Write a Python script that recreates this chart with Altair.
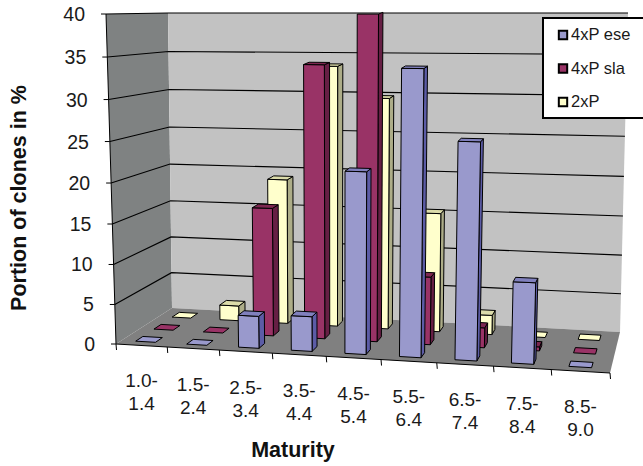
import altair as alt
import pandas as pd

# Portion of clones per maturity class, one list per ploidy group
categories = ["1.0-|1.4", "1.5-|2.4", "2.5-|3.4", "3.5-|4.4", "4.5-|5.4",
              "5.5-|6.4", "6.5-|7.4", "7.5-|8.4", "8.5-|9.0"]
ese = [0, 0, 4, 4.3, 22, 34, 25.8, 9.7, 0]
sla = [0, 0, 16.3, 34, 40, 8.5, 2.5, 0.5, 0]
two = [0, 2, 19, 33.5, 29.6, 15.3, 2.5, 0, 0]
y_ticks = [0, 5, 10, 15, 20, 25, 30, 35, 40]
y_max = 40

series = [
    ("4xP ese", ese, 1 / 6, "#9999cc", "#5c5ca6", "#8080bd"),
    ("4xP sla", sla, 1 / 2, "#993366", "#661f44", "#7d2750"),
    ("2xP", two, 5 / 6, "#ffffcc", "#adad88", "#dcdcaa"),
]

# Corners of the 3D box on the page: (front/back, left/right) at floor and ceiling
FLOOR = {"fl": (116, 344), "fr": (610, 373), "bl": (172, 308), "br": (620, 332)}
CEIL = {"fl": (106, 14), "fr": (622, 16), "bl": (168, 13), "br": (628, 13)}


def warp(t, w):
    return t / (t + w * (1 - t)) if t > 0 else 0.0


def mix(a, b, t):
    return a + (b - a) * t


def project(u, d, h):
    """Perspective mapping: u across classes, d into depth, h in percent."""
    uu, hh = warp(u, 1.08), warp(h / y_max, 1.05)
    out = []
    for k in (0, 1):
        low = mix(mix(FLOOR["fl"][k], FLOOR["fr"][k], uu), mix(FLOOR["bl"][k], FLOOR["br"][k], uu), d)
        high = mix(mix(CEIL["fl"][k], CEIL["fr"][k], uu), mix(CEIL["bl"][k], CEIL["br"][k], uu), d)
        out.append(mix(low, high, hh))
    return out


def rear_top(u, d, h):
    """Rear edge of a bar's top face, lifted a little so tall caps stay visible."""
    px, py = project(u, d, h)
    return [px, py - 1.6 * h / y_max]


def face_rows(pid, corners, fill):
    pts = corners + corners[:1]
    return [{"pid": pid, "v": i, "x": p[0], "y": p[1], "fill": fill} for i, p in enumerate(pts)]


def line_rows(pid, corners):
    return [{"pid": pid, "v": i, "x": p[0], "y": p[1]} for i, p in enumerate(corners)]


SX = alt.Scale(domain=[0, 643], nice=False, zero=False)
SY = alt.Scale(domain=[466, 0], nice=False, zero=False)
X = alt.X("x:Q", axis=None, scale=SX)
Y = alt.Y("y:Q", axis=None, scale=SY)


def polygons(rows, **mark):
    return alt.Chart(pd.DataFrame(rows)).mark_line(**mark).encode(
        x=X, y=Y, order="v:Q", detail="pid:N", fill=alt.Fill("fill:N", scale=None)
    )


def lines(rows, **mark):
    return alt.Chart(pd.DataFrame(rows)).mark_line(**mark).encode(
        x=X, y=Y, order="v:Q", detail="pid:N"
    )


# Walls and floor
walls = []
walls += face_rows("w0", [project(0, 0, 0), project(0, 1, 0), project(0, 1, y_max), project(0, 0, y_max)], "#7f8282")
walls += face_rows("w1", [project(0, 1, 0), project(1, 1, 0), project(1, 1, y_max), project(0, 1, y_max)], "#c2c2c2")
walls += face_rows("w2", [project(0, 0, 0), project(1, 0, 0), project(1, 1, 0), project(0, 1, 0)], "#808080")

# Gridlines run along the side wall and the back wall
grid = []
for t in y_ticks[1:]:
    grid += line_rows(f"g{t}", [project(0, 0, t), project(0, 1, t), project(1, 1, t)])

# Axis lines and tick marks
edges = line_rows("ax-y", [project(0, 0, 0), project(0, 0, y_max)])
edges += line_rows("ax-x", [project(0, 0, 0), project(1, 0, 0)])
for t in y_ticks:
    px, py = project(0, 0, t)
    edges += line_rows(f"ty{t}", [[px - 5, py], [px, py]])
for i in range(len(categories) + 1):
    px, py = project(i / len(categories), 0, 0)
    edges += line_rows(f"tx{i}", [[px, py], [px + 0.5, py + 6]])

# Bars, painted from the back row forward and left to right
half_u, half_d = 0.195 / len(categories), 0.065
bars = []
for rank, (name, values, depth, front, side, top) in enumerate(reversed(series)):
    d0, d1 = depth - half_d, depth + half_d
    for i, value in enumerate(values):
        u = (i + 0.5) / len(categories) - 0.003
        u0, u1 = u - half_u, u + half_u
        key = f"{rank}-{i}"
        if value > 0:
            bars += face_rows(f"{key}-a", [project(u1, d0, 0), project(u1, d1, 0), rear_top(u1, d1, value), project(u1, d0, value)], side)
            bars += face_rows(f"{key}-b", [project(u0, d0, 0), project(u1, d0, 0), project(u1, d0, value), project(u0, d0, value)], front)
        if value < y_max:
            cap = top if value > 0 else front
            bars += face_rows(f"{key}-c", [project(u0, d0, value), project(u1, d0, value), rear_top(u1, d1, value), rear_top(u0, d1, value)], cap)

# Text for the axes
y_labels = pd.DataFrame([
    {"x": project(0, 0, t)[0] - 21, "y": project(0, 0, t)[1] + 1, "text": str(t)} for t in y_ticks
])
x_rows = []
for i, label in enumerate(categories):
    px, py = project((i + 0.5) / len(categories), 0, 0)
    for j, part in enumerate(label.split("|")):
        x_rows.append({"x": px, "y": py + 36 + 23 * j, "text": part})
x_labels = pd.DataFrame(x_rows)

FONT = "Liberation Sans"
tick_y = alt.Chart(y_labels).mark_text(font=FONT, fontSize=19.5, align="right", baseline="middle", color="#1a1a1a").encode(x=X, y=Y, text="text:N")
tick_x = alt.Chart(x_labels).mark_text(font=FONT, fontSize=19, align="center", baseline="middle", color="#1a1a1a").encode(x=X, y=Y, text="text:N")
title_x = alt.Chart(pd.DataFrame({"x": [293], "y": [451], "text": ["Maturity"]})).mark_text(
    font=FONT, fontSize=21.5, fontWeight="bold", align="center", baseline="middle", color="#111111"
).encode(x=X, y=Y, text="text:N")
title_y = alt.Chart(pd.DataFrame({"x": [20], "y": [198], "text": ["Portion of clones in %"]})).mark_text(
    font=FONT, fontSize=21.5, fontWeight="bold", align="center", baseline="middle", angle=270, color="#111111"
).encode(x=X, y=Y, text="text:N")

# Legend box with its swatches
legend_box = alt.Chart(pd.DataFrame({"a": [0]})).mark_rect(fill="white", stroke="black", strokeWidth=2).encode(
    x=alt.value(543), x2=alt.value(660), y=alt.value(18), y2=alt.value(118)
)
legend_df = pd.DataFrame([
    {"x": 563, "tx": 571, "y": 35 + 33.5 * n, "text": s[0], "fill": s[3]} for n, s in enumerate(series)
])
legend_marks = alt.Chart(legend_df).mark_square(size=70, stroke="black", strokeWidth=2, opacity=1).encode(
    x=X, y=Y, fill=alt.Fill("fill:N", scale=None)
)
legend_text = alt.Chart(legend_df).mark_text(font=FONT, fontSize=16.5, align="left", baseline="middle", color="#1a1a1a").encode(
    x=alt.X("tx:Q", axis=None, scale=SX), y=Y, text="text:N"
)

chart = alt.layer(
    polygons(walls, stroke="transparent"),
    lines(grid, color="black", strokeWidth=1.1),
    lines(edges, color="black", strokeWidth=1),
    polygons(bars, stroke="black", strokeWidth=1),
    legend_box, legend_marks, legend_text,
    tick_y, tick_x, title_x, title_y,
).properties(
    width=643, height=466, padding=0, autosize=alt.AutoSizeParams(type="none")
).configure_view(strokeOpacity=0)

chart.save("out.html", embed_options={"renderer": "svg", "actions": False})
